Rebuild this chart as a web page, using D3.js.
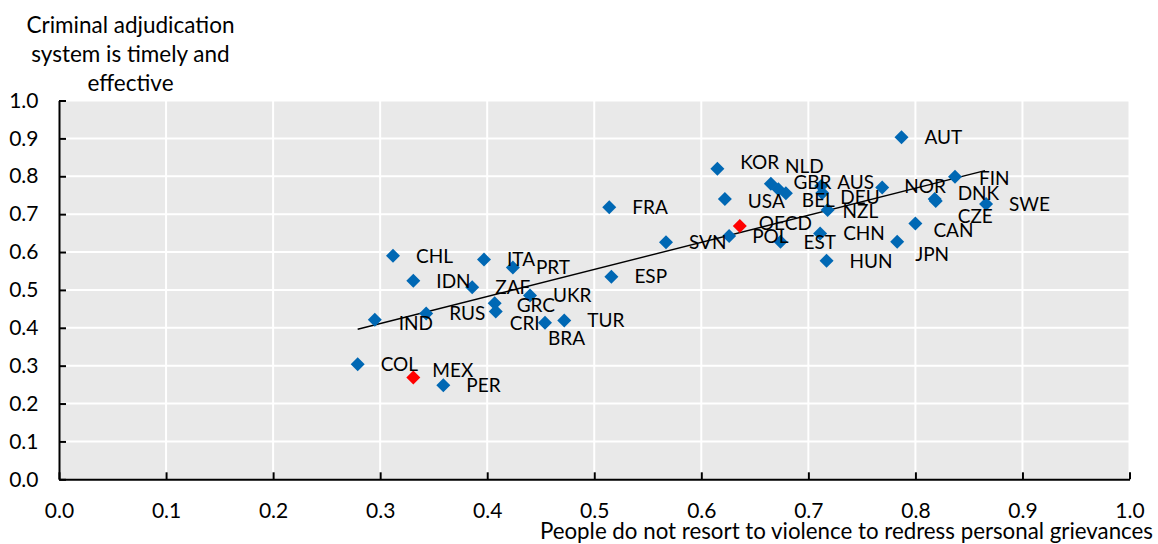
<!DOCTYPE html>
<html>
<head>
<meta charset="utf-8">
<script src="https://cdn.jsdelivr.net/npm/d3@7"></script>
<style>
  html, body { margin: 0; padding: 0; background: #fff; }
  svg { display: block; font-family: Lato, "Open Sans", sans-serif; }
</style>
</head>
<body>
<svg id="chart" width="1158" height="544"></svg>
<script>
// ---- data ----
const countries = ["AUT","KOR","NLD","GBR","BEL","AUS","DEU","NZL","NOR","USA","FRA","POL","SVN","EST","CHN","HUN","FIN","DNK","CZE","SWE","CAN","JPN","ESP","CHL","ITA","PRT","IDN","ZAF","UKR","GRC","RUS","IND","CRI","TUR","BRA","COL","PER","OECD","MEX"];
const violenceValues = [0.787,0.615,0.665,0.672,0.679,0.712,0.713,0.718,0.769,0.622,0.514,0.626,0.567,0.674,0.711,0.717,0.837,0.818,0.819,0.866,0.800,0.783,0.516,0.312,0.397,0.424,0.331,0.386,0.440,0.407,0.343,0.295,0.408,0.472,0.454,0.279,0.359,0.636,0.331];
const adjudicationValues = [0.903,0.820,0.780,0.766,0.755,0.774,0.756,0.711,0.770,0.740,0.718,0.642,0.626,0.627,0.649,0.577,0.799,0.740,0.735,0.727,0.675,0.627,0.535,0.590,0.580,0.559,0.524,0.507,0.485,0.465,0.438,0.421,0.443,0.419,0.413,0.304,0.248,0.669,0.269];
const highlighted = ["OECD","MEX"];
const trendX = [0.279, 0.865];
const trendY = [0.396, 0.815];
const tickValues = [0,0.1,0.2,0.3,0.4,0.5,0.6,0.7,0.8,0.9,1.0];
const yTitleLines = ["Criminal adjudication","system is timely and","effective"];
const xTitle = "People do not resort to violence to redress personal grievances";

// label placement (pixel offsets from the marker), default is right of marker
const labelOffsets = {
  KOR:[23,-7], NLD:[14,-18], GBR:[15,-7], BEL:[16,7], AUS:[16,-4], DEU:[18,4], NZL:[15,1],
  NOR:[22,-1], OECD:[19,-3], DNK:[23,-6], CZE:[22,15], CAN:[18,7], JPN:[18,12],
  GRC:[22,2], IND:[24,3], CRI:[14,12], BRA:[3,15], MEX:[19,-7], FIN:[24,1.5], USA:[23,2]
};

// ---- layout ----
const svg = d3.select("#chart");
const x = d3.scaleLinear().domain([0,1]).range([59,1129.5]);
const y = d3.scaleLinear().domain([0,1]).range([479.3,100.5]);

svg.append("rect")
  .attr("x", x(0)).attr("y", y(1))
  .attr("width", x(1)-x(0)).attr("height", y(0)-y(1))
  .attr("fill", "#e9e9e9");

const grid = svg.append("g");
grid.selectAll("line.v").data(tickValues.filter(v=>v>0)).join("line")
  .attr("x1", d=>x(d)).attr("x2", d=>x(d))
  .attr("y1", y(0)).attr("y2", y(1))
  .attr("stroke", "#fff").attr("stroke-width", 2);
grid.selectAll("line.h").data(tickValues.filter(v=>v>0)).join("line")
  .attr("x1", x(0)).attr("x2", x(1))
  .attr("y1", d=>y(d)).attr("y2", d=>y(d))
  .attr("stroke", "#fff").attr("stroke-width", 2);

const fmt = d3.format(".1f");
const yAxis = svg.append("g").attr("transform", `translate(${x(0)},0)`)
  .call(d3.axisLeft(y).tickValues(tickValues).tickFormat(fmt).tickSizeInner(-7).tickSizeOuter(0).tickPadding(20.5));
const xAxis = svg.append("g").attr("transform", `translate(0,${y(0)})`)
  .call(d3.axisBottom(x).tickValues(tickValues).tickFormat(fmt).tickSizeInner(-7).tickSizeOuter(0).tickPadding(24));
[yAxis, xAxis].forEach(g => {
  g.select(".domain").attr("stroke", "#000").attr("stroke-width", 2);
  g.selectAll(".tick line").attr("stroke", "#000").attr("stroke-width", 2);
  g.selectAll(".tick text").attr("fill", "#000").style("font-size", "21px").style("font-family", "Lato");
});

// trend line
svg.append("path")
  .attr("d", d3.line().x(d=>x(d[0])).y(d=>y(d[1]))(trendX.map((v,i)=>[v, trendY[i]])))
  .attr("stroke", "#000").attr("stroke-width", 1.4).attr("fill", "none");

// points
const data = countries.map((c,i)=>({c, vx: violenceValues[i], vy: adjudicationValues[i]}));
const diamond = d3.symbol().type(d3.symbolSquare).size(98);
svg.append("g").selectAll("path").data(data).join("path")
  .attr("d", diamond)
  .attr("transform", d=>`translate(${x(d.vx)},${y(d.vy)}) rotate(45)`)
  .attr("fill", d=>highlighted.includes(d.c) ? "#ff0000" : "#0068b4");

// labels
svg.append("g").selectAll("text").data(data).join("text")
  .attr("x", d=>x(d.vx) + (labelOffsets[d.c] ? labelOffsets[d.c][0] : 23))
  .attr("y", d=>y(d.vy) + (labelOffsets[d.c] ? labelOffsets[d.c][1] : 0))
  .attr("dy", "0.36em")
  .style("font-size", "19px")
  .attr("fill", "#000")
  .text(d=>d.c);

// titles
svg.append("text")
  .attr("x", 130.5).attr("y", 33)
  .attr("text-anchor", "middle").style("font-size", "22.5px")
  .selectAll("tspan").data(yTitleLines).join("tspan")
  .attr("x", 130.5).attr("dy", (d,i)=> i===0 ? 0 : 28.8)
  .text(d=>d);

svg.append("text")
  .attr("x", 1153).attr("y", 539)
  .attr("text-anchor", "end").style("font-size", "22.3px")
  .text(xTitle);
</script>
</body>
</html>
